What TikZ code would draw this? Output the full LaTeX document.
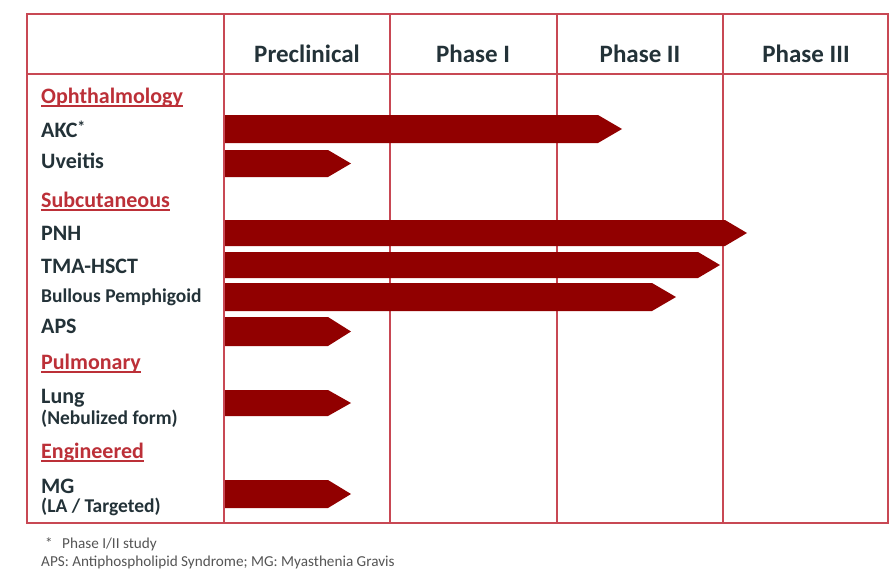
\documentclass[tikz,border=0pt]{standalone}
\usepackage{fontspec}
\setmainfont{Carlito}
\definecolor{gridred}{RGB}{200,72,84}
\definecolor{barred}{RGB}{145,0,0}
\definecolor{catred}{RGB}{188,48,56}
\definecolor{lbltext}{RGB}{35,50,56}
\definecolor{foottext}{RGB}{85,85,85}
\newcommand\phasebar[4]{\fill[barred] (225,#1) -- (#3,#1) -- (#4,{(#1+#2)/2}) -- (#3,#2) -- (225,#2) -- cycle;}
\begin{document}
\begin{tikzpicture}[x=1pt,y=-1pt,
  gridline/.style={draw=gridred,line width=1.6pt},
  hdr/.style={anchor=base,inner sep=0pt,text=lbltext,font=\bfseries\fontsize{25}{28}\selectfont},
  lbl/.style={anchor=base west,inner sep=0pt,text=lbltext,font=\bfseries\fontsize{22}{24}\selectfont},
  sublbl/.style={anchor=base west,inner sep=0pt,text=lbltext,font=\bfseries\fontsize{19.5}{22}\selectfont},
  cat/.style={anchor=base west,inner sep=0pt,text=catred,font=\bfseries\fontsize{22}{24}\selectfont},
  catline/.style={draw=catred,line width=1.3pt},
  foot/.style={anchor=base west,inner sep=0pt,text=foottext,font=\fontsize{15.2}{17}\selectfont}]
\useasboundingbox (0,0) rectangle (894,576);
\fill[white] (0,0) rectangle (894,576);
% grid
\draw[gridline] (224,14) -- (224,523);
\draw[gridline] (390,14) -- (390,523);
\draw[gridline] (557,14) -- (557,523);
\draw[gridline] (723,14) -- (723,523);
\draw[gridline] (27,74) -- (888,74);
\draw[gridline,line width=2pt] (27,14) rectangle (888,523);
% header
\node[hdr] (h1) at (307,62) {Preclinical};
\node[hdr] (h2) at (473,62) {Phase I};
\node[hdr] (h3) at (640,62) {Phase II};
\node[hdr] (h4) at (806,62) {Phase III};
% bars
\phasebar{115}{143}{598}{622}
\phasebar{150}{177}{328}{351}
\phasebar{220}{246}{725}{747}
\phasebar{252}{278}{698}{720}
\phasebar{283}{311}{652}{676}
\phasebar{317}{346}{328}{351}
\phasebar{390}{416}{328}{351}
\phasebar{480}{508}{328}{351}
% labels
\node[cat] (c1) at (41,103) {Ophthalmology};
\draw[catline] ([yshift=-3pt]c1.base west) -- ([yshift=-3pt]c1.base east);
\node[lbl] (l1) at (41,137) {AKC\raisebox{5pt}{\fontsize{16}{16}\selectfont*}};
\node[lbl] (l2) at (41,168) {Uveitis};
\node[cat] (c2) at (41,207) {Subcutaneous};
\draw[catline] ([yshift=-3pt]c2.base west) -- ([yshift=-3pt]c2.base east);
\node[lbl] (l3) at (41,240) {PNH};
\node[lbl] (l4) at (41,273) {TMA-HSCT};
\node[sublbl] (l5) at (41,302) {Bullous Pemphigoid};
\node[lbl] (l6) at (41,333) {APS};
\node[cat] (c3) at (41,369) {Pulmonary};
\draw[catline] ([yshift=-3pt]c3.base west) -- ([yshift=-3pt]c3.base east);
\node[lbl] (l7) at (41,403) {Lung};
\node[sublbl] (l7b) at (41,424) {(Nebulized form)};
\node[cat] (c4) at (41,458) {Engineered};
\draw[catline] ([yshift=-3pt]c4.base west) -- ([yshift=-3pt]c4.base east);
\node[lbl] (l8) at (41,493) {MG};
\node[sublbl] (l8b) at (41,512) {(LA / Targeted)};
% footnotes
\node[foot] (f0) at (45,548) {*};
\node[foot] (f1) at (62,548) {Phase I/II study};
\node[foot] (f2) at (41,566) {APS: Antiphospholipid Syndrome; MG: Myasthenia Gravis};
\end{tikzpicture}
\end{document}
